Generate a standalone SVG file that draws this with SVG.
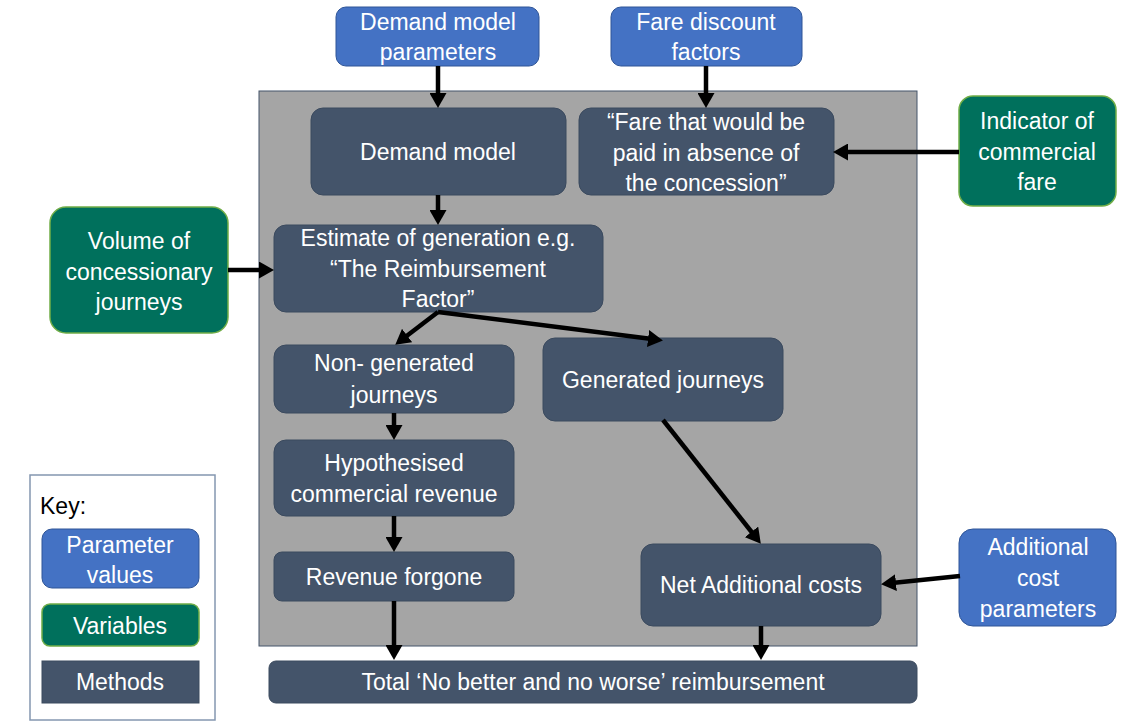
<svg xmlns="http://www.w3.org/2000/svg" width="1132" height="724" viewBox="0 0 1132 724">
<style>
text{font-family:"Liberation Sans",Arial,sans-serif;font-size:23px;fill:#ffffff;text-anchor:middle}
.m{fill:#44546a;stroke:#3b4a5e;stroke-width:1}
.p{fill:#4472c4;stroke:#2f5597;stroke-width:1}
.v{fill:#00705c;stroke:#70ad47;stroke-width:1.5}
.c{stroke:#000;stroke-width:4.5;fill:none;marker-end:url(#ah)}
</style>
<defs>
<marker id="ah" viewBox="0 0 15 17" refX="4" refY="8.5" markerWidth="15" markerHeight="17" markerUnits="userSpaceOnUse" orient="auto">
<path d="M0,0 L15,8.5 L0,17 z" fill="#000"/>
</marker>
</defs>
<rect width="1132" height="724" fill="#ffffff"/>
<rect id="frame" x="259" y="91" width="658" height="555" fill="#a5a5a5" stroke="#44546a" stroke-width="1"/>

<g id="key">
<rect x="30" y="475" width="185" height="245" fill="#ffffff" stroke="#8497b0" stroke-width="1.5"/>
<text x="40" y="514" style="fill:#000;text-anchor:start">Key:</text>
<rect class="p" x="42" y="529" width="157" height="59" rx="10"/>
<text x="120" y="553">Parameter</text><text x="120" y="583">values</text>
<rect class="v" x="42" y="604" width="157" height="42" rx="8"/>
<text x="120" y="634">Variables</text>
<rect class="m" x="42" y="661" width="157" height="42"/>
<text x="120" y="690">Methods</text>
</g>

<g id="demand-model-parameters"><rect class="p" x="336" y="7" width="203" height="59" rx="10"/>
<text x="438" y="30">Demand model</text><text x="438" y="60">parameters</text></g>
<g id="fare-discount-factors"><rect class="p" x="611" y="7" width="191" height="59" rx="10"/>
<text x="706" y="30">Fare discount</text><text x="706" y="60">factors</text></g>
<g id="indicator-commercial-fare"><rect class="v" x="959" y="96" width="157" height="110" rx="14"/>
<text x="1037" y="129">Indicator of</text><text x="1037" y="160">commercial</text><text x="1037" y="190">fare</text></g>
<g id="volume-concessionary"><rect class="v" x="50" y="207" width="178" height="126" rx="16"/>
<text x="139" y="249">Volume of</text><text x="139" y="280">concessionary</text><text x="139" y="310">journeys</text></g>
<g id="additional-cost-parameters"><rect class="p" x="959" y="529" width="157" height="97" rx="14"/>
<text x="1038" y="555">Additional</text><text x="1038" y="586">cost</text><text x="1038" y="617">parameters</text></g>

<g id="demand-model"><rect class="m" x="311" y="108" width="255" height="87" rx="12"/>
<text x="438" y="160">Demand model</text></g>
<g id="fare-absence"><rect class="m" x="579" y="108" width="255" height="87" rx="12"/>
<text x="706" y="130">“Fare that would be</text><text x="706" y="161">paid in absence of</text><text x="706" y="191">the concession”</text></g>
<g id="estimate-generation"><rect class="m" x="274" y="225" width="329" height="87" rx="12"/>
<text x="438" y="246">Estimate of generation e.g.</text><text x="438" y="277">“The Reimbursement</text><text x="438" y="307">Factor”</text></g>
<g id="non-generated"><rect class="m" x="274" y="345" width="240" height="68" rx="12"/>
<text x="394" y="371">Non- generated</text><text x="394" y="403">journeys</text></g>
<g id="generated"><rect class="m" x="543" y="338" width="240" height="83" rx="12"/>
<text x="663" y="388">Generated journeys</text></g>
<g id="hypothesised"><rect class="m" x="274" y="440" width="240" height="76" rx="12"/>
<text x="394" y="471">Hypothesised</text><text x="394" y="502">commercial revenue</text></g>
<g id="revenue-forgone"><rect class="m" x="274" y="552" width="240" height="49" rx="8"/>
<text x="394" y="585">Revenue forgone</text></g>
<g id="net-additional"><rect class="m" x="641" y="544" width="240" height="82" rx="12"/>
<text x="761" y="593">Net Additional costs</text></g>
<g id="total"><rect class="m" x="269" y="661" width="648" height="42" rx="7"/>
<text x="593" y="690">Total ‘No better and no worse’ reimbursement</text></g>

<g id="connectors">
<line class="c" x1="438" y1="66" x2="438" y2="97"/>
<line class="c" x1="706" y1="66" x2="706" y2="97"/>
<line class="c" x1="959" y1="152" x2="844" y2="152"/>
<line class="c" x1="438" y1="195" x2="438" y2="214"/>
<line class="c" x1="228" y1="270" x2="263" y2="270"/>
<line class="c" x1="438" y1="312" x2="404" y2="338"/>
<line class="c" x1="438" y1="312" x2="652" y2="339"/>
<line class="c" x1="394" y1="413" x2="394" y2="429"/>
<line class="c" x1="394" y1="516" x2="394" y2="541"/>
<line class="c" x1="394" y1="601" x2="394" y2="649"/>
<line class="c" x1="663" y1="420" x2="754" y2="535"/>
<line class="c" x1="960" y1="576" x2="892" y2="583"/>
<line class="c" x1="761" y1="626" x2="761" y2="649"/>
</g>
</svg>
